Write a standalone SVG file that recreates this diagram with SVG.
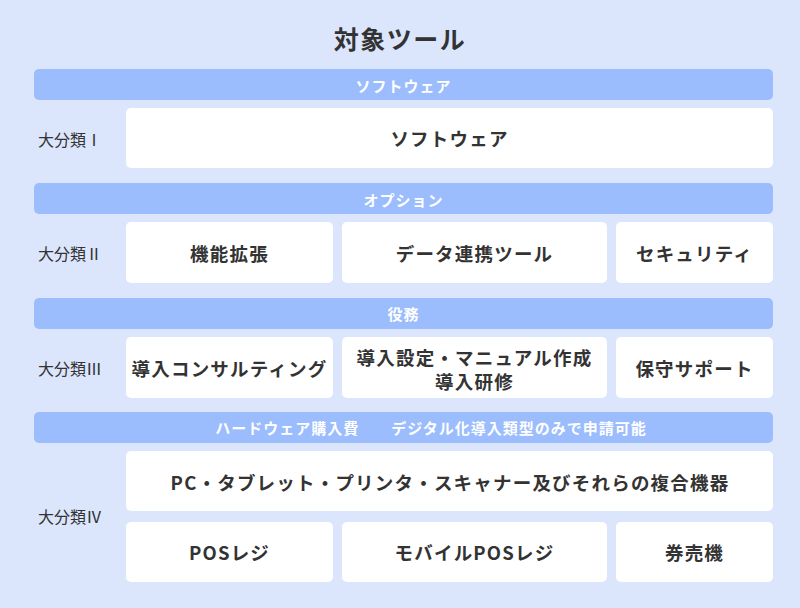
<svg xmlns="http://www.w3.org/2000/svg" width="800" height="608" viewBox="0 0 800 608">
<style>
text{font-family:"Noto Sans CJK JP","Noto Sans",sans-serif;fill:#333;dominant-baseline:central}
.title{font-size:25px;font-weight:700;text-anchor:middle;letter-spacing:1.5px}
.band rect{fill:#9bbcfd}
.band text{fill:#fff;font-size:15px;font-weight:700;text-anchor:middle;letter-spacing:1px}
.box rect{fill:#fff}
.box text{font-size:18.5px;font-weight:700;text-anchor:middle;letter-spacing:1.2px}
.lbl{font-size:16px;text-anchor:start}
</style>
<rect width="800" height="608" fill="#dbe6fd"/>
<text class="title" x="400" y="38">対象ツール</text>

<g id="band1" class="band"><rect x="34" y="69" width="739" height="31" rx="5"/><text x="403.5" y="85">ソフトウェア</text></g>
<g id="label1"><text class="lbl" x="38" y="139">大分類Ⅰ</text></g>
<g id="software" class="box"><rect x="126" y="108" width="647" height="60" rx="5"/><text x="449.5" y="138">ソフトウェア</text></g>

<g id="band2" class="band"><rect x="34" y="183" width="739" height="31" rx="5"/><text x="403.5" y="199">オプション</text></g>
<g id="label2"><text class="lbl" x="38" y="253">大分類Ⅱ</text></g>
<g id="kino" class="box"><rect x="126" y="222" width="207" height="61" rx="5"/><text x="229.5" y="253">機能拡張</text></g>
<g id="data" class="box"><rect x="342" y="222" width="265" height="61" rx="5"/><text x="474.5" y="253">データ連携ツール</text></g>
<g id="security" class="box"><rect x="616" y="222" width="157" height="61" rx="5"/><text x="694.5" y="253">セキュリティ</text></g>

<g id="band3" class="band"><rect x="34" y="298" width="739" height="31" rx="5"/><text x="403.5" y="313">役務</text></g>
<g id="label3"><text class="lbl" x="38" y="368">大分類Ⅲ</text></g>
<g id="consult" class="box"><rect x="126" y="337" width="207" height="61" rx="5"/><text x="229.5" y="368">導入コンサルティング</text></g>
<g id="settei" class="box"><rect x="342" y="337" width="265" height="61" rx="5"/><text x="474.5" y="357">導入設定・マニュアル作成</text><text x="474.5" y="381">導入研修</text></g>
<g id="hoshu" class="box"><rect x="616" y="337" width="157" height="61" rx="5"/><text x="694.5" y="368">保守サポート</text></g>

<g id="band4" class="band"><rect x="34" y="412" width="739" height="31" rx="5"/><text x="431" y="427" xml:space="preserve">ハードウェア購入費　　デジタル化導入類型のみで申請可能</text></g>
<g id="label4"><text class="lbl" x="38" y="516">大分類Ⅳ</text></g>
<g id="pc" class="box"><rect x="126" y="451" width="647" height="60" rx="5"/><text x="450" y="482">PC・タブレット・プリンタ・スキャナー及びそれらの複合機器</text></g>
<g id="pos" class="box"><rect x="126" y="522" width="207" height="60" rx="5"/><text x="229.5" y="552">POSレジ</text></g>
<g id="mobile" class="box"><rect x="342" y="522" width="265" height="60" rx="5"/><text x="474.5" y="552">モバイルPOSレジ</text></g>
<g id="ken" class="box"><rect x="616" y="522" width="157" height="60" rx="5"/><text x="694.5" y="552">券売機</text></g>
</svg>
